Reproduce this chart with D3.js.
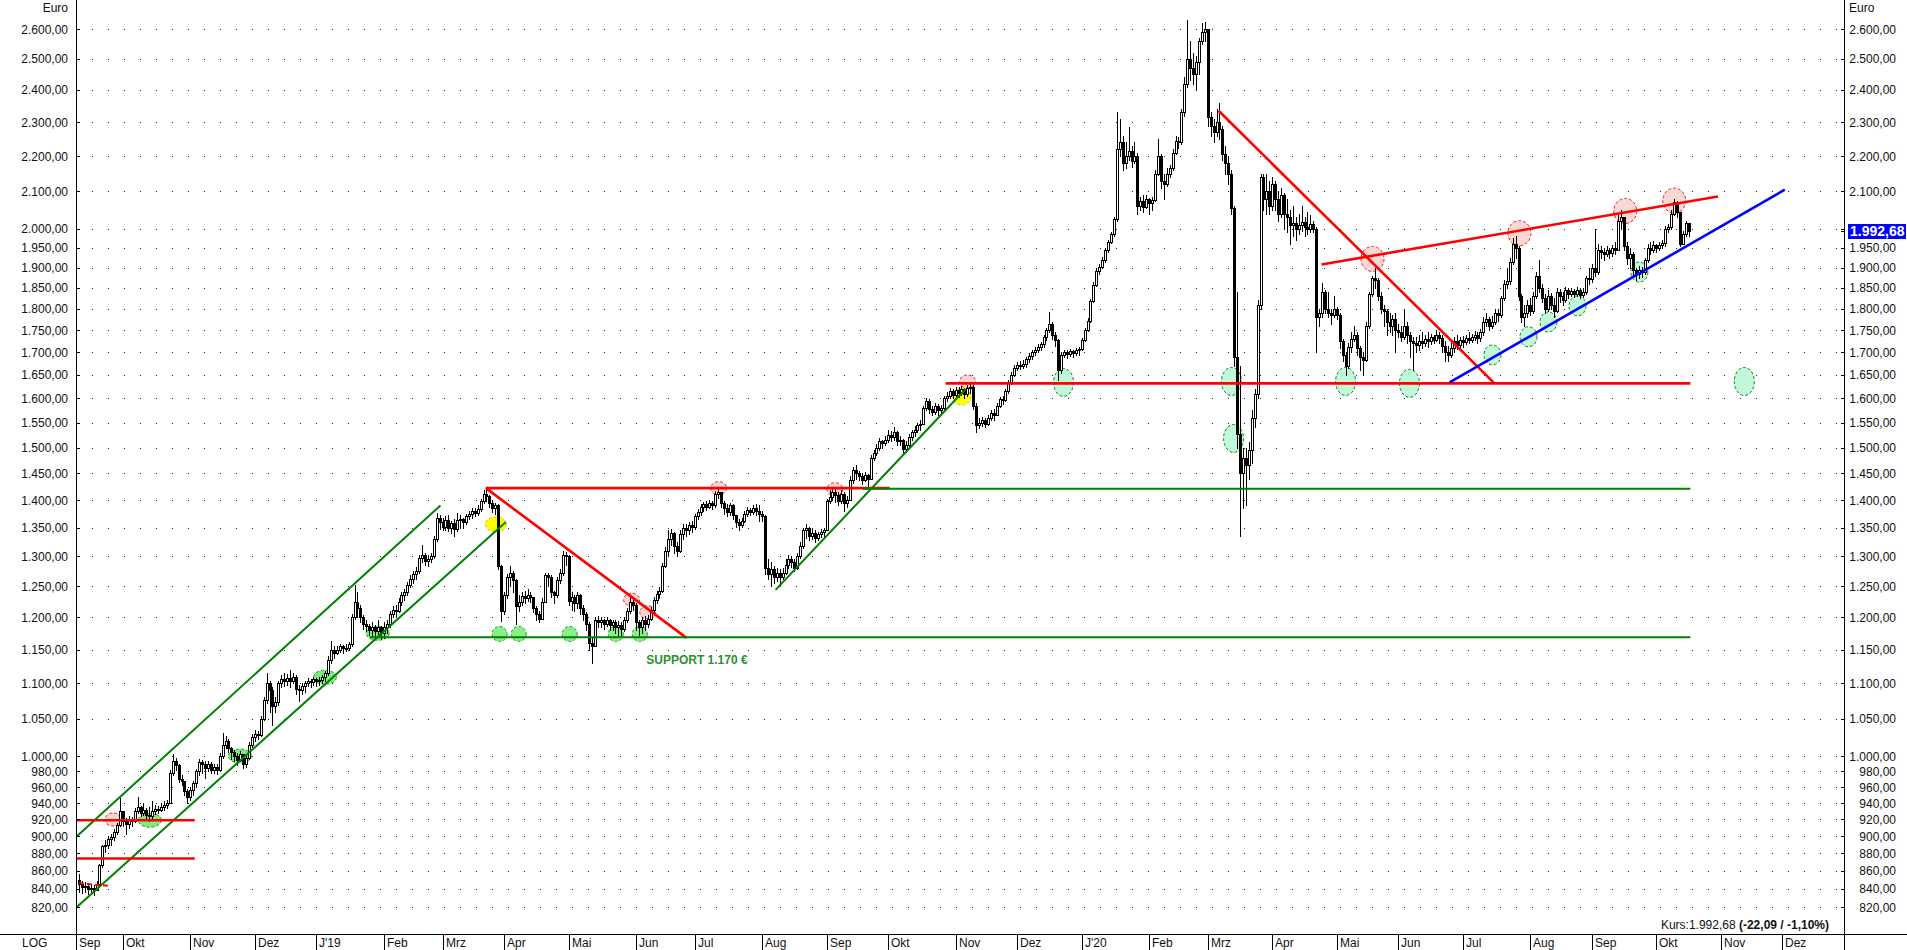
<!DOCTYPE html>
<html><head><meta charset="utf-8">
<script src="https://cdn.jsdelivr.net/npm/d3@7"></script>
<style>
html,body{margin:0;padding:0;background:#fff;overflow:hidden;}
svg{display:block;font-family:"Liberation Sans",Arial,sans-serif;}
</style></head><body>
<svg id="c" width="1907" height="950"></svg>
<script>
// ---------- DATA ----------
const startDate = new Date(2018, 8, 10);
const endDate = new Date(2021, 0, 1);
const monthLabels = ["Sep","Okt","Nov","Dez","J'19","Feb","Mrz","Apr","Mai","Jun","Jul","Aug","Sep","Okt","Nov","Dez","J'20","Feb","Mrz","Apr","Mai","Jun","Jul","Aug","Sep","Okt","Nov","Dez"];
const yTicks = [2600,2500,2400,2300,2200,2100,2000,1950,1900,1850,1800,1750,1700,1650,1600,1550,1500,1450,1400,1350,1300,1250,1200,1150,1100,1050,1000,980,960,940,920,900,880,860,840,820];
const firstOpen = 850;
const closes = [
845,842,843,840,841,839,845,866,888,890,
897,899,905,913,930,918,915,920,918,930,
935,928,932,926,924,930,933,932,935,938,
940,978,994,988,970,968,955,948,956,965,
980,992,990,985,990,982,986,982,1000,1015,
1020,1010,1005,1000,995,1002,990,998,1015,1025,
1030,1028,1050,1076,1100,1090,1068,1074,1100,1106,
1104,1108,1103,1110,1092,1090,1096,1100,1104,1102,
1106,1103,1105,1110,1115,1135,1150,1145,1150,1155,
1152,1153,1158,1200,1225,1215,1200,1190,1186,1180,
1185,1178,1184,1176,1185,1190,1205,1212,1210,1225,
1235,1240,1252,1262,1270,1276,1298,1302,1292,1296,
1300,1330,1368,1360,1352,1364,1350,1358,1348,1364,
1366,1360,1370,1374,1380,1377,1384,1398,1412,1408,
1395,1385,1390,1283,1210,1235,1265,1272,1260,1218,
1225,1234,1230,1236,1232,1215,1205,1198,1225,1268,
1266,1240,1235,1260,1272,1302,1300,1226,1232,1222,
1235,1215,1205,1190,1160,1155,1195,1192,1196,1190,
1195,1188,1192,1184,1188,1182,1195,1210,1224,1220,
1192,1185,1196,1190,1198,1212,1228,1238,1242,1284,
1310,1330,1340,1318,1310,1338,1350,1345,1355,1352,
1370,1378,1388,1392,1388,1395,1390,1412,1415,1395,
1385,1378,1390,1372,1360,1355,1362,1375,1382,1378,
1385,1380,1374,1370,1280,1270,1278,1266,1272,1265,
1272,1285,1296,1290,1280,1300,1318,1345,1350,1335,
1340,1332,1338,1342,1345,1398,1405,1415,1410,1398,
1412,1395,1400,1438,1456,1450,1445,1438,1446,1440,
1480,1490,1500,1512,1508,1515,1525,1520,1530,1512,
1515,1498,1505,1520,1530,1535,1545,1548,1580,1595,
1578,1572,1584,1575,1580,1600,1605,1615,1608,1618,
1612,1620,1610,1622,1625,1585,1545,1550,1555,1548,
1560,1570,1565,1585,1598,1596,1615,1635,1650,1665,
1672,1670,1675,1685,1692,1700,1705,1712,1718,1735,
1750,1765,1738,1728,1660,1695,1700,1696,1702,1698,
1705,1708,1728,1750,1772,1818,1858,1892,1902,1920,
1945,1965,1985,2025,2222,2240,2180,2200,2215,2185,
2200,2060,2075,2058,2080,2068,2078,2150,2200,2130,
2120,2150,2165,2210,2245,2240,2330,2420,2500,2470,
2450,2490,2560,2590,2600,2315,2290,2270,2300,2280,
2205,2180,2150,2055,1690,1527,1450,1480,1465,1495,
1560,1610,1810,2140,2080,2100,2060,2120,2080,2040,
2090,2040,2030,2010,2015,2000,2010,2018,2005,2000,
2012,2000,1780,1790,1840,1800,1790,1785,1800,1785,
1725,1695,1670,1712,1730,1740,1710,1690,1683,1760,
1835,1875,1870,1830,1800,1795,1770,1760,1775,1750,
1745,1735,1760,1740,1725,1720,1716,1725,1720,1730,
1725,1735,1728,1740,1732,1715,1700,1694,1710,1725,
1716,1728,1722,1733,1728,1735,1740,1732,1745,1770,
1775,1760,1770,1790,1785,1825,1860,1867,1915,1960,
1950,1830,1780,1790,1810,1795,1830,1880,1850,1825,
1800,1830,1810,1795,1840,1830,1820,1845,1835,1842,
1836,1845,1833,1840,1875,1872,1900,1890,1945,1940,
1935,1945,1938,1950,1945,2020,2030,1955,1925,1935,
1895,1885,1895,1890,1920,1950,1945,1958,1950,1958,
1962,2000,2005,2040,2070,2045,1960,1985,2015,1992.68];
const highs = [
856,848,847,846,845,844,848,868,890,895,
900,903,908,916,946,930,922,924,923,934,
947,937,940,934,935,942,938,937,940,942,
944,982,1003,998,990,975,968,958,960,968,
983,996,995,993,994,992,990,990,1004,1031,
1027,1022,1012,1008,1004,1006,1003,1002,1019,1030,
1035,1034,1054,1080,1116,1104,1095,1080,1104,1112,
1115,1114,1120,1116,1112,1098,1100,1104,1108,1107,
1110,1108,1110,1113,1118,1140,1163,1155,1156,1158,
1157,1158,1162,1205,1252,1240,1220,1204,1196,1190,
1192,1188,1195,1186,1192,1196,1210,1218,1220,1230,
1240,1246,1257,1268,1276,1282,1302,1320,1306,1302,
1305,1335,1376,1372,1368,1370,1372,1362,1365,1377,
1373,1368,1375,1380,1385,1386,1390,1402,1418,1422,
1410,1400,1395,1392,1285,1240,1270,1284,1276,1262,
1235,1240,1242,1246,1240,1232,1218,1210,1230,1272,
1272,1268,1242,1265,1278,1310,1308,1302,1240,1236,
1240,1238,1220,1208,1192,1168,1200,1202,1200,1198,
1200,1198,1196,1195,1194,1192,1200,1214,1232,1230,
1222,1196,1200,1202,1204,1216,1232,1242,1248,1288,
1316,1345,1348,1342,1325,1345,1356,1356,1360,1362,
1375,1384,1392,1396,1398,1400,1398,1416,1424,1412,
1398,1392,1395,1392,1372,1366,1368,1380,1388,1386,
1390,1392,1390,1380,1372,1296,1290,1284,1280,1278,
1280,1296,1302,1300,1296,1305,1324,1350,1356,1352,
1348,1345,1342,1348,1350,1402,1418,1424,1422,1415,
1418,1415,1408,1445,1462,1466,1455,1450,1452,1448,
1485,1496,1506,1518,1515,1522,1535,1532,1540,1532,
1522,1516,1512,1526,1535,1542,1550,1555,1585,1600,
1598,1585,1590,1588,1586,1606,1614,1622,1620,1624,
1624,1626,1622,1628,1635,1628,1590,1560,1562,1560,
1565,1575,1578,1590,1604,1605,1620,1640,1656,1672,
1678,1680,1682,1690,1698,1705,1712,1718,1724,1740,
1756,1793,1770,1745,1730,1700,1705,1704,1708,1706,
1710,1712,1732,1755,1778,1824,1864,1898,1910,1926,
1950,1970,1992,2030,2330,2310,2260,2240,2285,2230,
2240,2210,2085,2090,2090,2082,2085,2160,2250,2205,
2150,2165,2175,2220,2260,2256,2340,2440,2630,2560,
2520,2510,2570,2620,2625,2600,2330,2310,2340,2360,
2290,2230,2200,2160,2060,1840,1670,1500,1500,1510,
1575,1620,1820,2150,2150,2148,2130,2140,2130,2100,
2110,2095,2080,2050,2060,2030,2040,2060,2030,2045,
2035,2020,2005,1800,1862,1845,1840,1800,1830,1805,
1790,1730,1700,1720,1745,1760,1745,1715,1700,1770,
1840,1880,1900,1875,1840,1810,1800,1790,1785,1790,
1765,1760,1800,1770,1745,1735,1735,1740,1745,1740,
1745,1742,1740,1750,1745,1738,1725,1715,1720,1735,
1740,1735,1736,1740,1745,1742,1748,1745,1752,1780,
1790,1780,1782,1800,1800,1830,1870,1900,1925,1975,
1980,1955,1835,1810,1822,1825,1840,1890,1920,1860,
1835,1845,1838,1825,1850,1848,1840,1852,1850,1850,
1848,1852,1848,1850,1880,1900,1910,2000,1960,1955,
1950,1955,1950,1958,1965,2035,2050,2030,1965,1950,
1940,1900,1905,1902,1925,1960,1965,1968,1960,1965,
1970,2008,2012,2050,2080,2075,2045,1995,2020,2015];
const lows = [
836,835,836,834,835,833,838,843,864,882,
886,890,896,902,912,912,903,910,912,917,
928,924,925,921,918,922,927,928,930,932,
934,940,975,982,966,962,950,940,944,950,
960,975,978,972,980,978,978,976,983,998,
1010,1005,996,994,988,993,984,986,996,1012,
1020,1022,1026,1048,1072,1060,1042,1060,1070,1095,
1096,1098,1095,1100,1085,1075,1085,1088,1096,1095,
1098,1097,1098,1100,1104,1112,1130,1138,1143,1146,
1145,1148,1150,1156,1198,1200,1192,1182,1178,1172,
1170,1168,1172,1166,1168,1176,1185,1200,1202,1208,
1220,1228,1236,1248,1255,1262,1272,1290,1286,1284,
1290,1298,1326,1348,1345,1346,1344,1340,1335,1344,
1352,1350,1356,1365,1368,1370,1372,1380,1395,1398,
1388,1378,1375,1278,1194,1205,1230,1250,1240,1190,
1210,1220,1222,1226,1224,1208,1196,1192,1198,1225,
1250,1232,1222,1232,1255,1268,1285,1220,1212,1210,
1215,1205,1196,1180,1150,1130,1155,1184,1185,1182,
1186,1180,1180,1176,1170,1172,1178,1192,1206,1212,
1180,1172,1176,1180,1185,1195,1208,1222,1230,1240,
1282,1302,1320,1305,1300,1308,1330,1335,1338,1342,
1348,1365,1372,1380,1382,1385,1384,1388,1404,1388,
1375,1370,1372,1365,1352,1345,1352,1360,1370,1372,
1374,1372,1362,1362,1270,1262,1250,1255,1258,1252,
1262,1270,1280,1282,1275,1278,1298,1315,1332,1328,
1330,1325,1328,1333,1336,1345,1395,1400,1396,1390,
1395,1380,1388,1400,1432,1440,1438,1430,1435,1425,
1440,1476,1485,1496,1500,1505,1510,1512,1515,1505,
1505,1488,1492,1500,1515,1522,1530,1535,1548,1575,
1570,1565,1568,1566,1570,1578,1595,1600,1600,1602,
1604,1608,1600,1605,1612,1578,1530,1538,1542,1540,
1545,1555,1555,1565,1582,1588,1594,1612,1630,1648,
1660,1662,1665,1668,1678,1686,1695,1700,1705,1712,
1728,1745,1730,1715,1640,1655,1690,1688,1692,1690,
1694,1694,1705,1726,1748,1768,1815,1855,1885,1898,
1915,1940,1962,1982,2020,2200,2160,2165,2190,2170,
2180,2040,2050,2045,2055,2040,2050,2075,2145,2110,
2080,2115,2140,2160,2205,2225,2235,2320,2410,2430,
2420,2400,2450,2550,2560,2290,2260,2240,2260,2250,
2190,2150,2120,2040,1670,1500,1335,1385,1390,1440,
1470,1540,1600,1800,2050,2040,2040,2050,2050,2020,
2030,2000,1990,1960,1980,1970,1985,1995,1980,1985,
1990,1990,1700,1760,1780,1790,1780,1765,1780,1775,
1710,1680,1650,1665,1700,1725,1695,1660,1650,1680,
1755,1830,1850,1820,1790,1760,1740,1745,1740,1700,
1735,1725,1730,1720,1690,1660,1700,1705,1710,1715,
1712,1718,1720,1725,1720,1700,1680,1680,1690,1700,
1708,1710,1712,1718,1720,1722,1728,1720,1725,1740,
1760,1750,1755,1765,1772,1780,1820,1850,1860,1910,
1925,1820,1770,1760,1780,1785,1790,1825,1840,1815,
1790,1795,1800,1780,1792,1815,1810,1815,1825,1830,
1828,1830,1825,1828,1835,1860,1865,1880,1885,1925,
1920,1930,1925,1930,1935,1945,2000,1945,1910,1900,
1880,1870,1875,1878,1885,1915,1935,1940,1940,1945,
1950,1955,1990,2000,2035,2030,1955,1960,1980,1980];
const lastPrice = 1992.68, lastChange = -22.09, lastChangePct = -1.10;
// trend lines: [startIndex, startPrice, endIndex, endPrice, kind]
const trendLines = [
  [-0.7, 900, 123.3, 1390, "green"],
  [-0.7, 820, 145.6, 1360, "green"],
  [-0.7, 919, 39.5, 919, "red"],
  [-0.7, 874, 39.5, 874, "red"],
  [0, 846, 10.6, 843, "redDash"],
  [138.8, 1422, 276.5, 1422, "red"],
  [138.8, 1422, 207.2, 1168, "red"],
  [99.2, 1169, 549.6, 1169, "green"],
  [237.6, 1244, 302.4, 1620, "green"],
  [267.3, 1421, 549.6, 1421, "green"],
  [295.6, 1632, 549.6, 1632, "red"],
  [388.7, 2335, 482.8, 1632, "red"],
  [423.8, 1908, 559, 2086, "red"],
  [467.5, 1634, 581.8, 2105, "blue"]
];
// marked spots: [index, price, kind]
const markers = [
  [11.6, 920, "pinkS"], [24.2, 919, "greenW"], [54.9, 1000, "greenW"], [83.9, 1109, "greenW"],
  [101.9, 1175, "greenW"], [142.2, 1356, "yellowW"],
  [143.5, 1174, "greenS"], [150, 1174, "greenS"], [167.4, 1174, "greenS"], [183.1, 1174, "greenS"], [191.3, 1174, "greenS"],
  [188.5, 1228, "pinkS"], [194, 1208, "pinkS"], [218.2, 1422, "pinkS"], [257.8, 1420, "pinkS"],
  [301.1, 1604, "yellowS"], [303.1, 1636, "pinkS"],
  [335.8, 1634, "mintT"], [393.1, 1636, "mintT"], [393.8, 1518, "mintT"], [432, 1636, "mintT"], [453.8, 1632, "mintT"],
  [441.2, 1922, "pinkL"], [491.3, 1988, "pinkL"], [527.4, 2047, "pinkL"], [544.1, 2075, "pinkL"],
  [482.1, 1694, "mintM"], [494.4, 1735, "mintM"], [501.2, 1769, "mintM"], [511.1, 1807, "mintM"], [532.2, 1889, "mintM"],
  [568, 1636, "mintT"]
];
const supportLabel = "SUPPORT 1.170 €";

// ---------- STYLES ----------
const lineStyle = {
  green: {stroke: "#008000", width: 2},
  red: {stroke: "#ff0000", width: 2.6},
  redDash: {stroke: "#ff0000", width: 2, dash: "5,3"},
  blue: {stroke: "#0000ff", width: 2.6}
};
const markerStyle = {
  pinkS: {rx: 8, ry: 6.5, fill: "#f8d4d0", stroke: "#e02020"},
  pinkL: {rx: 11.5, ry: 12.5, fill: "#f8d8d4", stroke: "#e02020"},
  greenW: {rx: 11.5, ry: 7, fill: "#7fe87f", stroke: "#20a020"},
  greenS: {rx: 7.5, ry: 7.5, fill: "#88f088", stroke: "#20a020"},
  yellowW: {rx: 10.5, ry: 7.5, fill: "#ffff00", stroke: "#c8c800"},
  yellowS: {rx: 9, ry: 8.5, fill: "#ffff00", stroke: "#c8c800"},
  mintT: {rx: 10, ry: 14, fill: "#c2f8da", stroke: "#108010"},
  mintM: {rx: 8.5, ry: 10, fill: "#c2f8da", stroke: "#108010"}
};

// ---------- CHART ----------
const W = 1907, H = 950;
const L = 76, R = 1844, AXY = 934;
const svg = d3.select("#c");
svg.append("rect").attr("width", W).attr("height", H).attr("fill", "#fff");

const days = d3.timeDays(startDate, endDate).filter(d => d.getDay() !== 0 && d.getDay() !== 6);
const x = d3.scaleLinear().domain([-1, 602]).range([L, R]);
const y = d3.scaleLog().domain([820, 2600]).range([907, 29]);
const de = d3.formatLocale({decimal: ",", thousands: ".", grouping: [3], currency: ["", "€"], minus: "-"});
const fmt = de.format(",.2f");

// grid dots
let dots = "";
yTicks.forEach(v => {
  const yy = Math.round(y(v));
  for (let k = 1; L + 16 * k < R; k++) dots += `M${L + 16 * k},${yy}h1v1h-1z`;
});
svg.append("path").attr("d", dots).attr("fill", "#222");

// markers (under candles)
const gM = svg.append("g");
markers.forEach(([i, p, k]) => {
  const s = markerStyle[k];
  gM.append("ellipse").attr("cx", x(i)).attr("cy", y(p)).attr("rx", s.rx).attr("ry", s.ry)
    .attr("fill", s.fill).attr("stroke", s.stroke).attr("stroke-width", 1).attr("stroke-dasharray", "3,2");
});

// candles
const gC = svg.append("g").attr("shape-rendering", "crispEdges");
closes.forEach((c, i) => {
  const o = i === 0 ? firstOpen : closes[i - 1];
  const xc = Math.round(x(i));
  const hi = Math.max(highs[i], o, c), lo = Math.min(lows[i], o, c);
  gC.append("line").attr("x1", xc + 0.5).attr("x2", xc + 0.5)
    .attr("y1", Math.round(y(hi))).attr("y2", Math.round(y(lo)) + 1)
    .attr("stroke", "#000").attr("stroke-width", 1);
  const yt = Math.round(y(Math.max(o, c))), yb = Math.round(y(Math.min(o, c)));
  gC.append("rect").attr("x", xc - 0.5).attr("y", yt + 0.5).attr("width", 2)
    .attr("height", Math.max(yb - yt, 1))
    .attr("fill", c < o ? "#000" : "#fff").attr("stroke", "#000").attr("stroke-width", 1);
});

// trend lines
const gL = svg.append("g");
trendLines.forEach(([i1, p1, i2, p2, k]) => {
  const s = lineStyle[k];
  gL.append("line").attr("x1", x(i1)).attr("y1", y(p1)).attr("x2", x(i2)).attr("y2", y(p2))
    .attr("stroke", s.stroke).attr("stroke-width", s.width)
    .attr("stroke-dasharray", s.dash || null);
});

// support label
svg.append("text").attr("x", x(193.5)).attr("y", y(1169) + 27)
  .attr("font-size", 12).attr("font-weight", "bold").attr("fill", "#2f8f2f").text(supportLabel);

// axes frame
const gA = svg.append("g").attr("shape-rendering", "crispEdges");
gA.append("line").attr("x1", 0).attr("x2", W).attr("y1", AXY + 0.5).attr("y2", AXY + 0.5).attr("stroke", "#000");
gA.append("line").attr("x1", L + 0.5).attr("x2", L + 0.5).attr("y1", 0).attr("y2", H).attr("stroke", "#000").attr("stroke-width", 1.5);
gA.append("line").attr("x1", R + 0.5).attr("x2", R + 0.5).attr("y1", 0).attr("y2", H).attr("stroke", "#000").attr("stroke-width", 1.5);

// y ticks & labels (both sides); the right-hand label hidden by the price box is left out
const yl = y(lastPrice);
yTicks.forEach(v => {
  const yy = Math.round(y(v)) + 0.5;
  gA.append("line").attr("x1", L).attr("x2", L + 4).attr("y1", yy).attr("y2", yy).attr("stroke", "#000");
  gA.append("line").attr("x1", R - 3).attr("x2", R + 1).attr("y1", yy).attr("y2", yy).attr("stroke", "#000");
  svg.append("text").attr("x", 68).attr("y", y(v) + 4.5).attr("text-anchor", "end")
    .attr("font-size", 12).attr("fill", "#111").text(fmt(v));
  if (Math.abs(y(v) - yl) > 12)
    svg.append("text").attr("x", 1896).attr("y", y(v) + 4.5).attr("text-anchor", "end")
      .attr("font-size", 12).attr("fill", "#111").text(fmt(v));
});
svg.append("text").attr("x", 68).attr("y", 12).attr("text-anchor", "end").attr("font-size", 12).attr("fill", "#111").text("Euro");
svg.append("text").attr("x", 1849).attr("y", 12).attr("font-size", 12).attr("fill", "#111").text("Euro");

// month ticks
const monthStarts = [];
days.forEach((d, i) => { if (i === 0 || d.getMonth() !== days[i - 1].getMonth()) monthStarts.push(i); });
monthStarts.forEach((i, n) => {
  const xx = n === 0 ? L : Math.round(x(i));
  gA.append("line").attr("x1", xx + 0.5).attr("x2", xx + 0.5).attr("y1", AXY).attr("y2", H).attr("stroke", "#000");
  svg.append("text").attr("x", xx + 3).attr("y", 947).attr("font-size", 12).attr("fill", "#111").text(monthLabels[n]);
});
svg.append("text").attr("x", 22).attr("y", 947).attr("font-size", 12).attr("fill", "#111").text("LOG");

// last price box
gA.append("line").attr("x1", R - 3).attr("x2", R + 1).attr("y1", Math.round(yl) + 0.5).attr("y2", Math.round(yl) + 0.5).attr("stroke", "#000");
svg.append("rect").attr("x", 1848).attr("y", Math.round(yl) - 7).attr("width", 58).attr("height", 15).attr("fill", "#0000ff");
svg.append("text").attr("x", 1850).attr("y", Math.round(yl) + 5).attr("font-size", 14).attr("font-weight", "bold")
  .attr("fill", "#fff").text(fmt(lastPrice));

// Kurs info
const kt = svg.append("text").attr("x", 1829).attr("y", 929).attr("text-anchor", "end").attr("font-size", 12).attr("fill", "#111");
kt.append("tspan").text("Kurs:" + fmt(lastPrice) + " ");
kt.append("tspan").attr("font-weight", "bold").text("(" + fmt(lastChange) + " / " + fmt(lastChangePct) + "%)");
</script>
</body></html>
